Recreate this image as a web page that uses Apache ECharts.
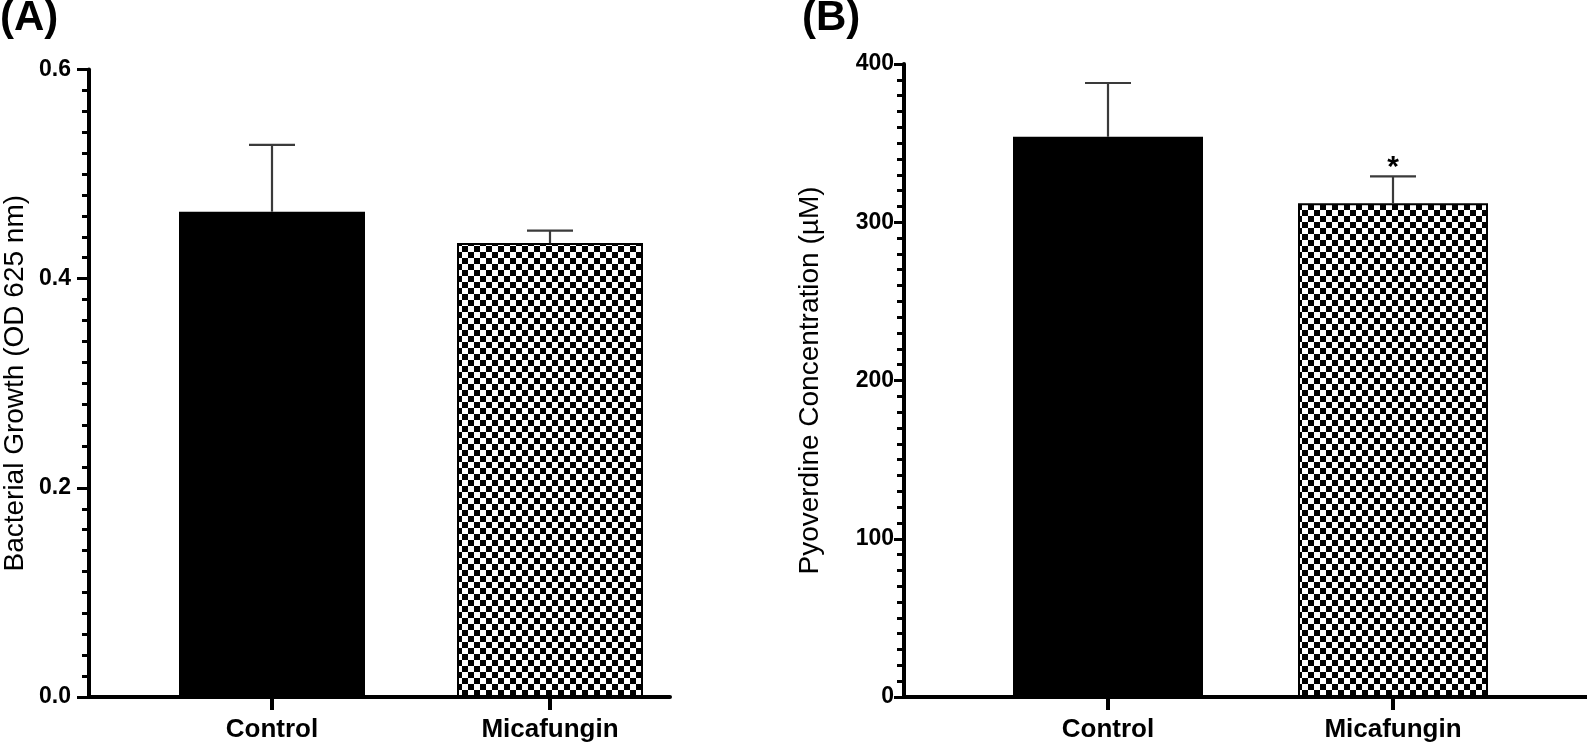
<!DOCTYPE html>
<html><head><meta charset="utf-8">
<script src="https://cdn.jsdelivr.net/npm/echarts/dist/echarts.min.js"></script>
<style>html,body{margin:0;padding:0;background:#fff}#c{width:1587px;height:747px}</style>
</head><body><div id="c"></div>
<script>
// ---- data ----
const categories = ['Control', 'Micafungin'];
const growthMean = [0.464, 0.434];
const growthUpper = [0.528, 0.446];
const growthSig = ['', ''];
const pyoMean = [354, 312];
const pyoUpper = [388, 329];
const pyoSig = ['', '*'];
const growthTicks = ['0.0', '0.2', '0.4', '0.6'];
const pyoTicks = ['0', '100', '200', '300', '400'];

// ---- styling ----
const FONT = '"Liberation Sans", Arial, Helvetica, sans-serif';
function checker() {
  const c = document.createElement('canvas');
  c.width = 12; c.height = 12;
  const g = c.getContext('2d');
  g.fillStyle = '#fff'; g.fillRect(0, 0, 12, 12);
  g.fillStyle = '#000'; g.fillRect(0, 0, 6, 6); g.fillRect(6, 6, 6, 6);
  return c;
}
const checkerFill = { image: checker(), repeat: 'repeat' };
const barFills = ['#000', checkerFill];

function errRenderer(sig) {
  return function (params, api) {
    const x = api.value(0), lo = api.value(1), hi = api.value(2);
    const p0 = api.coord([x, lo]), p1 = api.coord([x, hi]);
    const half = 23;
    const ls = { stroke: '#3a3a3a', lineWidth: 2.2 };
    const children = [
      { type: 'line', shape: { x1: p0[0], y1: p0[1], x2: p1[0], y2: p1[1] }, style: ls },
      { type: 'line', shape: { x1: p1[0] - half, y1: p1[1], x2: p1[0] + half, y2: p1[1] }, style: ls }
    ];
    const s = sig[params.dataIndex];
    if (s) {
      children.push({ type: 'text', x: p1[0], y: p1[1] - 9,
        style: { text: s, fontSize: 30, fontWeight: 'bold', fontFamily: FONT, fill: '#000', align: 'center', verticalAlign: 'middle' } });
    }
    return { type: 'group', children };
  };
}

function frameX(gi) {
  return { gridIndex: gi, type: 'value', min: 0, max: 1, z: 10,
    axisLine: { show: true, lineStyle: { color: '#000', width: 4 } },
    axisTick: { show: false }, axisLabel: { show: false }, splitLine: { show: false } };
}
function frameY(gi, max, interval, ticks, name, nameGap, tickLen, labelMargin) {
  return { gridIndex: gi, type: 'value', min: 0, max: max, interval: interval, z: 10,
    name: name, nameLocation: 'middle', nameGap: nameGap,
    nameTextStyle: { fontSize: 28, fontFamily: FONT, color: '#000' },
    axisLine: { show: true, lineStyle: { color: '#000', width: 4 } },
    axisTick: { show: true, length: tickLen, lineStyle: { color: '#000', width: 3 } },
    minorTick: { show: true, splitNumber: 10, length: 7, lineStyle: { color: '#000', width: 3 } },
    splitLine: { show: false }, minorSplitLine: { show: false },
    axisLabel: { margin: labelMargin, fontSize: 23, fontWeight: 'bold', fontFamily: FONT, color: '#000',
      formatter: (v, i) => ticks[i] } };
}
function catX(gi) {
  return { gridIndex: gi, type: 'category', data: categories,
    axisLine: { show: false },
    axisTick: { show: true, alignWithLabel: true, length: 13, lineStyle: { color: '#000', width: 4 } },
    axisLabel: { margin: 20, fontSize: 26, fontWeight: 'bold', fontFamily: FONT, color: '#000' },
    splitLine: { show: false } };
}
function hiddenY(gi, max) {
  return { gridIndex: gi, type: 'value', min: 0, max: max, show: false, splitLine: { show: false } };
}

const option = {
  animation: false,
  backgroundColor: '#fff',
  title: [
    { text: '(A)', left: 0, top: -3, padding: 0, textStyle: { fontSize: 42, fontWeight: 'bold', fontFamily: FONT, color: '#000' } },
    { text: '(B)', left: 802, top: -3, padding: 0, textStyle: { fontSize: 42, fontWeight: 'bold', fontFamily: FONT, color: '#000' } }
  ],
  grid: [
    { left: 86, right: 917, top: 69.5, bottom: 50 },
    { left: 133, width: 556, top: 69.5, bottom: 50 },
    { left: 904, right: 0, top: 64, bottom: 50 },
    { left: 965.5, width: 570, top: 64, bottom: 50 }
  ],
  xAxis: [frameX(0), catX(1), frameX(2), catX(3)],
  yAxis: [
    frameY(0, 0.6, 0.2, growthTicks, 'Bacterial Growth (OD 625 nm)', 60, 12, 18),
    hiddenY(1, 0.6),
    frameY(2, 400, 100, pyoTicks, 'Pyoverdine Concentration (µM)', 80, 10, 10),
    hiddenY(3, 400)
  ],
  series: [
    { type: 'bar', xAxisIndex: 1, yAxisIndex: 1, barWidth: 186,
      data: growthMean.map((v, i) => ({ value: v, itemStyle: { color: barFills[i], borderColor: '#000', borderWidth: 2 } })) },
    { type: 'custom', xAxisIndex: 1, yAxisIndex: 1, z: 5, renderItem: errRenderer(growthSig),
      data: growthMean.map((v, i) => [i, v, growthUpper[i]]) },
    { type: 'bar', xAxisIndex: 3, yAxisIndex: 3, barWidth: 190,
      data: pyoMean.map((v, i) => ({ value: v, itemStyle: { color: barFills[i], borderColor: '#000', borderWidth: 2 } })) },
    { type: 'custom', xAxisIndex: 3, yAxisIndex: 3, z: 5, renderItem: errRenderer(pyoSig),
      data: pyoMean.map((v, i) => [i, v, pyoUpper[i]]) }
  ]
};
const chart = echarts.init(document.getElementById('c'), null, { renderer: 'canvas' });
chart.setOption(option);
</script>
</body></html>
